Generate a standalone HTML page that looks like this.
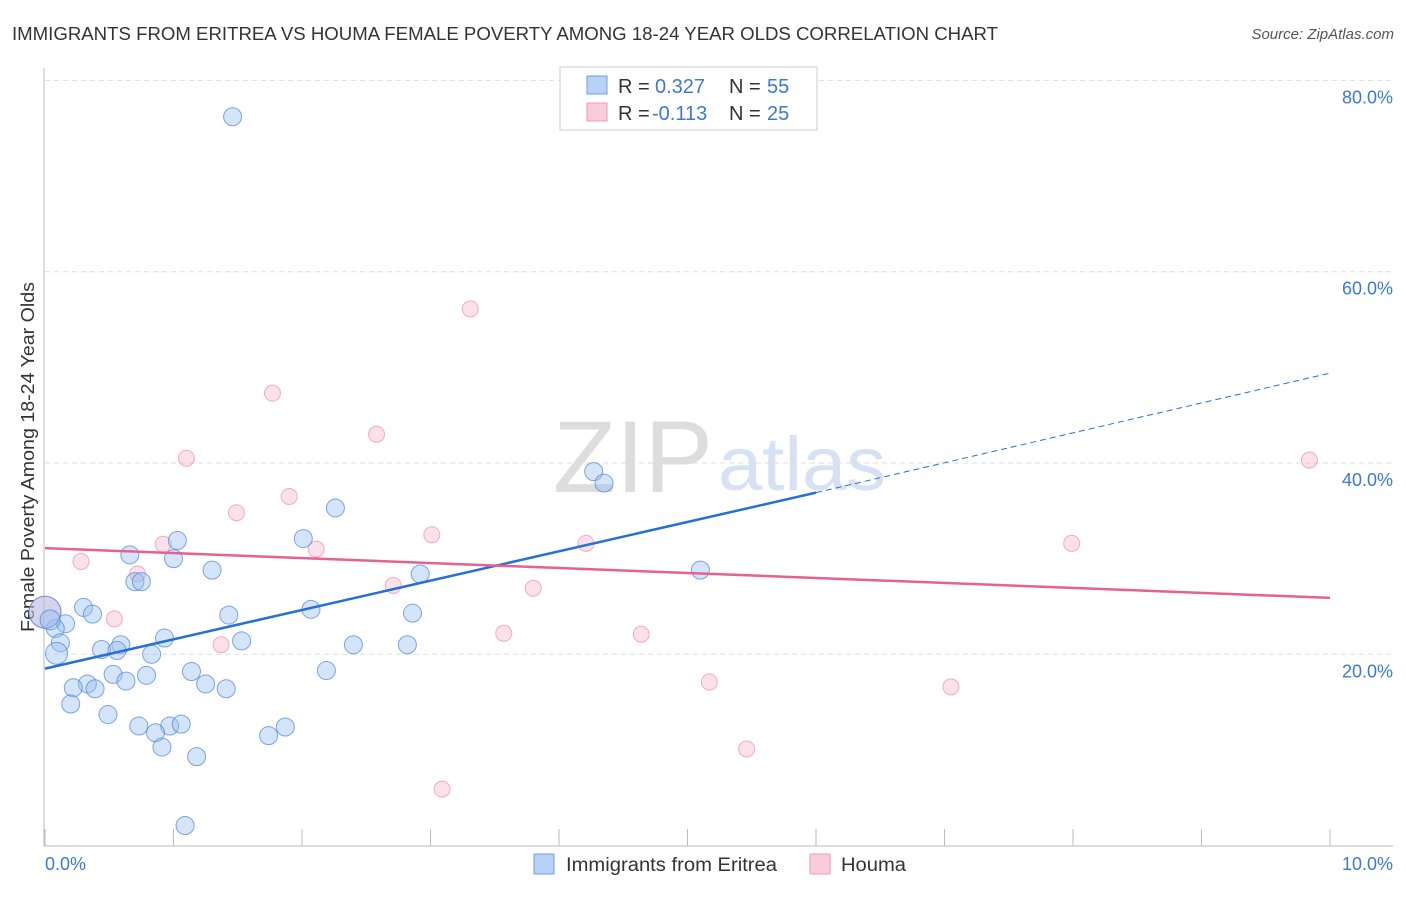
<!DOCTYPE html>
<html><head><meta charset="utf-8"><style>
body{margin:0;background:#fff;font-family:"Liberation Sans",sans-serif}
svg text{font-family:"Liberation Sans",sans-serif}
</style></head><body>
<svg width="1406" height="892" id="chart">
<text x="12" y="40" font-size="18" fill="#333" textLength="986" lengthAdjust="spacingAndGlyphs">IMMIGRANTS FROM ERITREA VS HOUMA FEMALE POVERTY AMONG 18-24 YEAR OLDS CORRELATION CHART</text>
<text x="1394" y="39" font-size="15" fill="#555" text-anchor="end" font-style="italic">Source: ZipAtlas.com</text>
<text x="553" y="492" font-size="102" fill="#ddd" textLength="160" lengthAdjust="spacingAndGlyphs" font-family="Liberation Serif">ZIP</text>
<text x="718" y="490" font-size="76" fill="#d6e2f3" textLength="168" lengthAdjust="spacingAndGlyphs">atlas</text>
<g id="grid"></g>
<line x1="44" y1="68" x2="44" y2="846" stroke="#bbb"/>
<line x1="44" y1="846" x2="1393" y2="846" stroke="#bbb"/>
<text transform="translate(34,457) rotate(-90)" font-size="18" fill="#333" text-anchor="middle" textLength="350" lengthAdjust="spacingAndGlyphs">Female Poverty Among 18-24 Year Olds</text>
<text x="45" y="870" font-size="18" fill="#3b78d8">0.0%</text>
<text x="1393" y="870" font-size="18" fill="#3b78d8" text-anchor="end">10.0%</text>
<g id="marks"></g>
<g>
<rect x="560" y="67" width="257" height="63" fill="#fff" stroke="#ccc"/>
<rect x="587" y="76" width="20" height="18" fill="#b7d2f4" stroke="#6b9ee6"/>
<rect x="587" y="103" width="20" height="18" fill="#f9ccd9" stroke="#ee9ab3"/>
<text x="618" y="93" font-size="20" fill="#333">R = <tspan x="655" fill="#3b78d8">0.327</tspan><tspan x="729">N = </tspan><tspan x="767" fill="#3b78d8">55</tspan></text>
<text x="618" y="120" font-size="20" fill="#333">R = <tspan x="652" fill="#3b78d8">-0.113</tspan><tspan x="729">N = </tspan><tspan x="767" fill="#3b78d8">25</tspan></text>
</g>
<g>
<rect x="534" y="854" width="20" height="20" fill="#b7d2f4" stroke="#6b9ee6"/>
<text x="566" y="871" font-size="19" fill="#333" textLength="211" lengthAdjust="spacingAndGlyphs">Immigrants from Eritrea</text>
<rect x="810" y="854" width="20" height="20" fill="#f9ccd9" stroke="#ee9ab3"/>
<text x="841" y="871" font-size="19" fill="#333" textLength="65" lengthAdjust="spacingAndGlyphs">Houma</text>
</g>
</svg>
<script>
const yTicks=[20,40,60,80];
const xTicks=[0,1,2,3,4,5,6,7,8,9,10];
const blueX=[1.46,4.27,4.35,2.26,1.03,2.01,0.66,1.0,1.3,0.7,0.75,5.1,2.92,0.3,0.37,2.07,1.43,2.86,0.16,0.08,0.12,0.93,0.59,0.44,0.56,1.53,2.4,2.82,0.09,0.83,0.53,0.79,1.14,2.19,0.63,0.33,0.22,0.39,1.25,1.41,0.2,0.49,0.73,0.97,1.06,0.86,1.87,1.74,0.91,1.18,1.09,0.0,0.04];
const blueY=[76.2,39.1,37.9,35.3,31.9,32.1,30.4,30.0,28.8,27.6,27.6,28.8,28.4,24.9,24.2,24.7,24.1,24.3,23.2,22.7,21.2,21.7,21.0,20.5,20.4,21.4,21.0,21.0,20.1,20.0,17.9,17.8,18.2,18.3,17.2,16.9,16.5,16.4,16.9,16.4,14.8,13.7,12.5,12.5,12.7,11.8,12.4,11.5,10.3,9.3,2.1,24.4,23.6];
const blueR=[9,9,9,9,9,9,9,9,9,9,9,9,9,9,9,9,9,9,9,9,9,9,9,9,9,9,9,9,11,9,9,9,9,9,9,9,9,9,9,9,9,9,9,9,9,9,9,9,9,9,9,16,10];
const pinkX=[3.31,1.77,2.58,1.1,1.9,1.49,3.01,0.92,2.11,0.28,0.72,2.71,3.8,0.54,3.57,4.64,1.37,5.17,5.46,3.09,4.21,7.99,9.84,7.05,0.0];
const pinkY=[56.1,47.3,43.0,40.5,36.5,34.8,32.5,31.5,31.0,29.7,28.4,27.2,26.9,23.7,22.2,22.1,21.0,17.1,10.1,5.9,31.6,31.6,40.3,16.6,24.4];
const blueLine={x0:0,y0:18.5,x1:6.0,y1:36.9,x2:10,y2:49.4};
const pinkLine={x0:0,y0:31.1,x1:10,y1:25.9};
const X=v=>45+v*128.5, Y=v=>845.6-v*9.565;
const NS="http://www.w3.org/2000/svg";
const grid=document.getElementById('grid'),marks=document.getElementById('marks');
function mk(tag,attrs,parent){const e=document.createElementNS(NS,tag);for(const k in attrs)e.setAttribute(k,attrs[k]);parent.appendChild(e);return e;}
yTicks.forEach(t=>{
 const l=mk('line',{x1:45,x2:1393,y1:Y(t),y2:Y(t),stroke:'#ddd','stroke-dasharray':'5,4'},grid);
 
 
 const tx=mk('text',{x:1393,y:Y(t)+23,'font-size':18,fill:'#3b78d8','text-anchor':'end'},grid);
 tx.textContent=t.toFixed(1)+'%';
 
 
});
xTicks.forEach(t=>{
 const l=mk('line',{x1:X(t),x2:X(t),y1:829,y2:846,stroke:'#bbb'},grid);
 
 
});
pinkX.forEach((v,i)=>{
 const c=mk('circle',{cx:X(v),cy:Y(pinkY[i]),r:i==pinkX.length-1?16:8,fill:'rgba(246,170,195,0.35)',stroke:'rgba(238,140,170,0.7)','stroke-width':1},marks);
 
 
});
blueX.forEach((v,i)=>{
 const c=mk('circle',{cx:X(v),cy:Y(blueY[i]),r:blueR[i],fill:'rgba(150,190,240,0.4)',stroke:'rgba(70,130,220,0.7)','stroke-width':1},marks);
 
 
});
const bl=mk('line',{x1:X(blueLine.x0),y1:Y(blueLine.y0),x2:X(blueLine.x1),y2:Y(blueLine.y1),stroke:'#2470d8','stroke-width':2.5},marks);


const bd=mk('line',{x1:X(blueLine.x1),y1:Y(blueLine.y1),x2:X(blueLine.x2),y2:Y(blueLine.y2),stroke:'#2470d8','stroke-width':1,'stroke-dasharray':'6,4'},marks);


const pl=mk('line',{x1:X(pinkLine.x0),y1:Y(pinkLine.y0),x2:X(pinkLine.x1),y2:Y(pinkLine.y1),stroke:'#e8608e','stroke-width':2.5},marks);


</script>
</body></html>
